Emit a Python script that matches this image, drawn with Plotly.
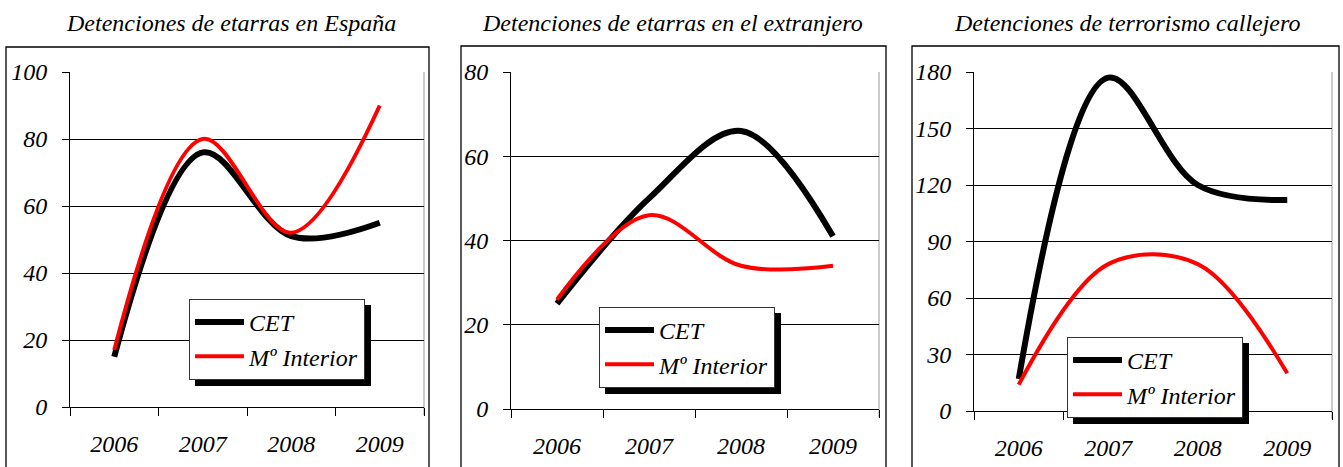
import plotly.graph_objects as go

# ---------------- data ----------------
years = ["2006", "2007", "2008", "2009"]
titles = ["Detenciones de etarras en España",
          "Detenciones de etarras en el extranjero",
          "Detenciones de terrorismo callejero"]
series_names = ["CET", "Mº Interior"]

espana_cet = [15, 76, 51, 55]
espana_int = [17, 80, 52, 90]
extranjero_cet = [25, 50, 66, 41]
extranjero_int = [26, 46, 34, 34]
callejero_cet = [17, 177, 120, 112]
callejero_int = [14, 78, 78, 20]

y_max = [100, 80, 180]
y_dtick = [20, 20, 30]

# ---------------- layout (pixels) ----------------
W, H = 1343, 467
FONT = "Liberation Serif"
FS = 24


def px(x):
    return x / W


def py(y):
    return 1 - y / H


plot_boxes = [(70, 424, 72, 407), (511, 879, 72, 409), (974, 1332, 72, 411)]
outer_boxes = [(6, 429, 47), (461, 886, 46), (912, 1339, 46)]
title_x = [231, 672, 1127]
legend_boxes = [(189, 299), (599, 307), (1067, 337)]
legend_size = (176, 81)

data = [(espana_cet, espana_int), (extranjero_cet, extranjero_int), (callejero_cet, callejero_int)]

fig = go.Figure()
shapes = []
annotations = []
layout = {}

for i in range(3):
    n = "" if i == 0 else str(i + 1)
    xa, ya = "x" + n, "y" + n
    legname = "legend" if i == 0 else "legend" + str(i + 1)
    cet, mint = data[i]
    fig.add_trace(go.Scatter(x=years, y=cet, name=series_names[0], mode="lines",
                             line=dict(color="#000000", width=6, shape="spline", smoothing=1.0),
                             xaxis=xa, yaxis=ya, legend=legname, legendgroup="a" + n))
    fig.add_trace(go.Scatter(x=years, y=mint, name=series_names[1], mode="lines",
                             line=dict(color="#FF0000", width=4, shape="spline", smoothing=1.0),
                             xaxis=xa, yaxis=ya, legend=legname, legendgroup="b" + n))
    l, r, t, b = plot_boxes[i]
    layout["xaxis" + n] = dict(
        domain=[px(l), px(r)], anchor=ya, type="category", range=[-0.5, 3.5],
        showline=True, linecolor="#000", linewidth=1, ticks="outside", ticklen=8,
        tickcolor="#000", tickson="boundaries", showgrid=False, zeroline=False,
        tickfont=dict(family=FONT, size=FS, color="#000", style="italic"),
        ticklabelstandoff=15, fixedrange=True, automargin=False)
    layout["yaxis" + n] = dict(
        domain=[py(b), py(t)], anchor=xa, range=[0, y_max[i]], dtick=y_dtick[i],
        showline=True, linecolor="#000", linewidth=1, ticks="outside", ticklen=7,
        tickcolor="#000", showgrid=True, gridcolor="#000", gridwidth=1, zeroline=False,
        tickfont=dict(family=FONT, size=FS, color="#000", style="italic"),
        ticklabelstandoff=10, fixedrange=True, automargin=False)
    # right border of plot area
    shapes.append(dict(type="line", xref="paper", yref="paper", x0=px(r), x1=px(r),
                       y0=py(b + 8), y1=py(t), line=dict(color="#999", width=1), layer="below"))
    # outer chart box
    ol, orr, ot = outer_boxes[i]
    shapes.append(dict(type="rect", xref="paper", yref="paper", x0=px(ol), x1=px(orr),
                       y0=-0.02, y1=py(ot), line=dict(color="#000", width=1.3)))
    # title
    annotations.append(dict(text=titles[i], xref="paper", yref="paper", x=px(title_x[i]),
                            y=py(23), xanchor="center", yanchor="middle", showarrow=False,
                            font=dict(family=FONT, size=FS, color="#000", style="italic")))
    # legend + shadow
    lx, ly = legend_boxes[i]
    lw, lh = legend_size
    shapes.append(dict(type="rect", xref="paper", yref="paper", x0=px(lx + 6), x1=px(lx + lw + 6),
                       y0=py(ly + lh + 6), y1=py(ly + 6), fillcolor="#000",
                       line=dict(width=0), layer="above"))
    layout[legname] = dict(x=px(lx), y=py(ly), xanchor="left", yanchor="top",
                           bgcolor="#fff", bordercolor="#333", borderwidth=1,
                           font=dict(family=FONT, size=FS, color="#000", style="italic"),
                           traceorder="grouped", tracegroupgap=0, itemwidth=49)

fig.update_layout(width=W, height=H, autosize=False, margin=dict(l=0, r=0, t=0, b=0),
                  paper_bgcolor="#fff", plot_bgcolor="#fff", showlegend=True,
                  shapes=shapes, annotations=annotations, **layout)

fig.write_html("out.html", config={"displayModeBar": False},
               post_script="document.body.style.margin='0';")
